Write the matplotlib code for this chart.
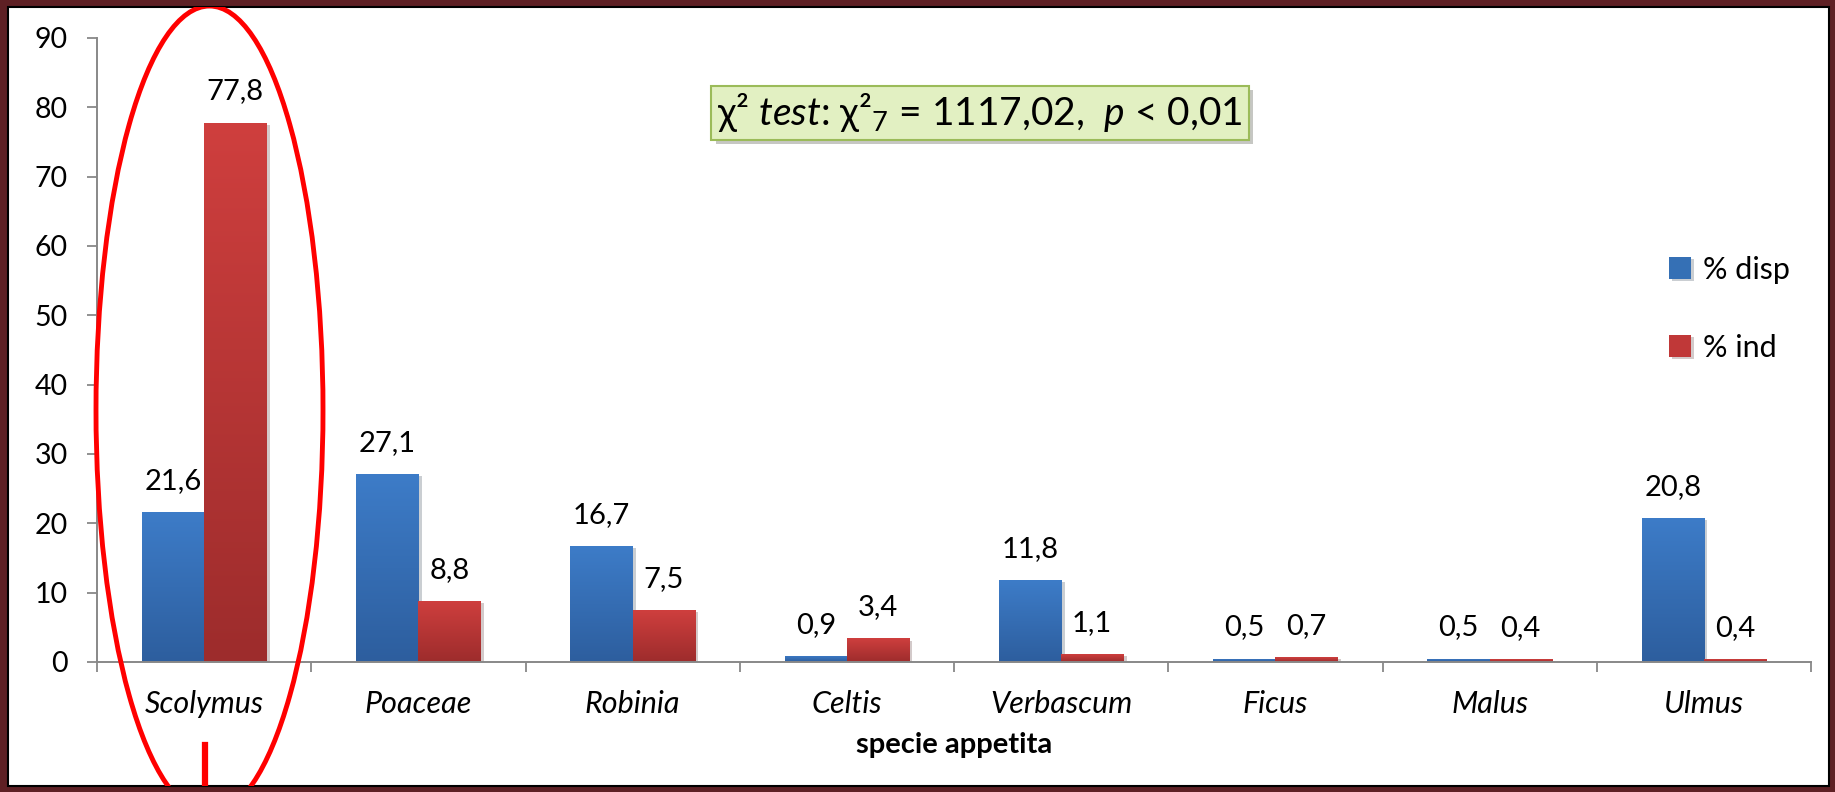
import numpy as np
import matplotlib.pyplot as plt
from matplotlib.patches import Ellipse, Rectangle
from matplotlib.lines import Line2D
import matplotlib.patheffects as pe
from matplotlib.colors import LinearSegmentedColormap

species = ['Scolymus', 'Poaceae', 'Robinia', 'Celtis', 'Verbascum', 'Ficus', 'Malus', 'Ulmus']
pct_disp = [21.6, 27.1, 16.7, 0.9, 11.8, 0.5, 0.5, 20.8]
pct_ind = [77.8, 8.8, 7.5, 3.4, 1.1, 0.7, 0.4, 0.4]
series_names = ['% disp', '% ind']
yticks = [0, 10, 20, 30, 40, 50, 60, 70, 80, 90]

W, H = 1835, 792

plt.rcParams['font.family'] = ['Lato', 'DejaVu Sans']
plt.rcParams['mathtext.fontset'] = 'custom'
plt.rcParams['mathtext.rm'] = 'Lato'
plt.rcParams['mathtext.it'] = 'Lato:italic'


def fx(x):
    return x / W


def fy(y):
    return 1 - y / H


fig = plt.figure(figsize=(W / 100, H / 100), dpi=100, facecolor='#5e2024')

# white slide frame with black edge
frame = Rectangle((fx(8), fy(786)), fx(1829) - fx(8), fy(7) - fy(786),
                  transform=fig.transFigure, facecolor='white',
                  edgecolor='black', lw=1.5, zorder=-10)
fig.add_artist(frame)

ax = fig.add_axes([fx(97), fy(662), fx(1811) - fx(97), fy(38) - fy(662)])
ax.set_facecolor('none')

x = np.arange(len(species))
w = 0.29
blue_cm = LinearSegmentedColormap.from_list('b', ['#2d5e9e', '#3d7cc8'])
red_cm = LinearSegmentedColormap.from_list('r', ['#9d2c2c', '#cf3f3e'])
shadow = [pe.SimplePatchShadow(offset=(2.5, -1.5), alpha=0.22), pe.Normal()]

b1 = ax.bar(x - w / 2, pct_disp, w, color='#3570b5', zorder=2,
            label=series_names[0], path_effects=shadow)
b2 = ax.bar(x + w / 2, pct_ind, w, color='#c03838', zorder=2,
            label=series_names[1], path_effects=shadow)

grad = np.linspace(0, 1, 256).reshape(-1, 1)
for bars, cm in ((b1, blue_cm), (b2, red_cm)):
    for p in bars:
        x0, h = p.get_x(), p.get_height()
        im = ax.imshow(grad, extent=[x0, x0 + p.get_width(), 0, h], origin='lower',
                       cmap=cm, aspect='auto', zorder=2.1)
        im.set_clip_path(p)
    ax.bar_label(bars, labels=[f'{v:.1f}'.replace('.', ',') for v in bars.datavalues],
                 padding=13, fontsize=21, zorder=3)

ax.set_xlim(-0.5, len(species) - 0.5)
ax.set_ylim(0, 90)
ax.set_yticks(yticks)
ax.set_xticks(x)
ax.set_xticklabels(species, fontstyle='italic')
ax.set_xticks(np.arange(-0.5, len(species)), minor=True)

for s in ('top', 'right'):
    ax.spines[s].set_visible(False)
for s in ('left', 'bottom'):
    ax.spines[s].set_color('#888888')
    ax.spines[s].set_linewidth(1.4)

ax.tick_params(axis='y', direction='out', length=7, width=1.3, color='#888888',
               labelsize=20.5, pad=14)
ax.tick_params(axis='x', which='major', length=0, labelsize=22, pad=20)
ax.tick_params(axis='x', which='minor', direction='out', length=7, width=1.3,
               color='#888888')

ax.set_xlabel('specie appetita', fontsize=21, fontweight='bold', labelpad=10)

ax.legend(handles=[b1, b2], loc='upper left', bbox_to_anchor=(fx(1641), fy(228)),
          bbox_transform=fig.transFigure, frameon=False, fontsize=22,
          handlelength=0.72, handleheight=0.72, handletextpad=0.4,
          labelspacing=1.65)

# chi-square test note
note = fig.text(fx(980), fy(113),
                r'χ² $\mathit{test}$: χ²$_{7}$ = 1117,02,  $\mathit{p}$ < 0,01',
                ha='center', va='center', fontsize=28,
                bbox=dict(boxstyle='square,pad=0.15', fc='#e2f0c2', ec='#9bbb59', lw=1.5))
note.get_bbox_patch().set_path_effects([pe.SimplePatchShadow(offset=(3, -3), alpha=0.3),
                                        pe.Normal()])

# red highlight around Scolymus
ell = Ellipse((fx(209.5), fy(410)), fx(227), 808 / H, transform=fig.transFigure,
              fc='none', ec='#ff0000', lw=3.5, zorder=10)
fig.add_artist(ell)
ell.set_clip_path(frame)
stem = Line2D([fx(205), fx(205)], [fy(745), fy(800)], transform=fig.transFigure,
              color='#ff0000', lw=4.5, zorder=10)
fig.add_artist(stem)
stem.set_clip_path(frame)

fig.savefig('out.png', dpi=100, facecolor=fig.get_facecolor())
